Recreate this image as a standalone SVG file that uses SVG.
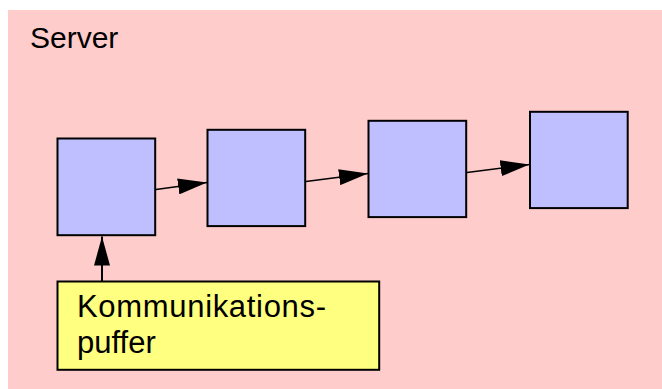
<svg xmlns="http://www.w3.org/2000/svg" width="662" height="389" viewBox="0 0 662 389">
  <style>
    .label { font-family: "Liberation Sans", Arial, Helvetica, sans-serif; font-size: 30px; fill: #000; }
    .big { font-size: 31px; }
    .stage { fill: #BFBFFF; stroke: #000; stroke-width: 2; }
    .buffer { fill: #FFFF80; stroke: #000; stroke-width: 2; }
    .link { stroke: #000; stroke-width: 1.3; fill: none; marker-end: url(#head); }
  </style>
  <defs>
    <marker id="head" markerUnits="userSpaceOnUse" markerWidth="29" markerHeight="16" refX="29" refY="8" orient="auto">
      <path d="M0,0 L29,8 L0,16 z" fill="#000"/>
    </marker>
  </defs>

  <rect width="662" height="389" fill="#fff"/>

  <g id="server">
    <rect x="8" y="10" width="654" height="379" fill="#FFCCCC"/>
    <text class="label" x="30" y="48.3">Server</text>
  </g>

  <g id="stage1"><rect class="stage" x="57.5" y="138.5" width="97.7" height="96.7"/></g>
  <g id="stage2"><rect class="stage" x="207.5" y="129.8" width="97.7" height="96.3"/></g>
  <g id="stage3"><rect class="stage" x="368.5" y="120.8" width="97.7" height="96.3"/></g>
  <g id="stage4"><rect class="stage" x="530" y="111.8" width="97.7" height="96.3"/></g>

  <g id="kommunikationspuffer">
    <rect class="buffer" x="57.5" y="281.5" width="321.7" height="88.3"/>
    <text class="label big" x="77" y="316.7" textLength="249" lengthAdjust="spacing">Kommunikations-</text>
    <text class="label big" x="77" y="353.3">puffer</text>
  </g>

  <g id="connectors">
    <line class="link" x1="156" y1="189.5" x2="207" y2="182.5"/>
    <line class="link" x1="306" y1="181.5" x2="368" y2="173.5"/>
    <line class="link" x1="467" y1="172.5" x2="529.5" y2="164.5"/>
    <line class="link" x1="102" y1="281" x2="102" y2="236.5" style="stroke-width:2"/>
  </g>
</svg>
